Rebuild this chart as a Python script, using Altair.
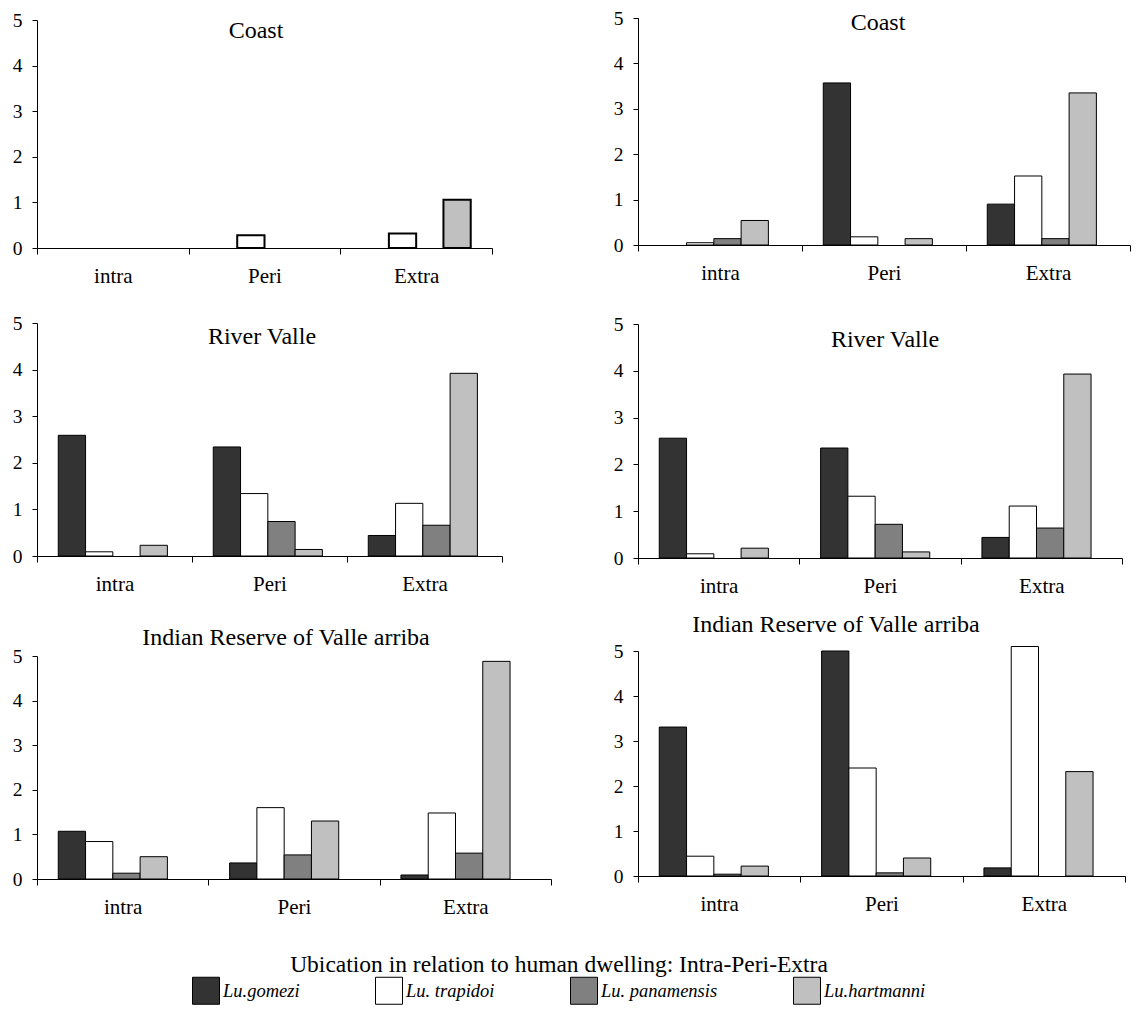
import altair as alt
import pandas as pd

FONT = "Liberation Serif"

categories = ["intra", "Peri", "Extra"]
species = ["Lu.gomezi", "Lu. trapidoi", "Lu. panamensis", "Lu.hartmanni"]
colors = ["#333333", "#ffffff", "#808080", "#c0c0c0"]
y_ticks = [0, 1, 2, 3, 4, 5]
panel_titles = ["Coast", "Coast", "River Valle", "River Valle",
                "Indian Reserve of Valle arriba", "Indian Reserve of Valle arriba"]
axis_title = "Ubication in relation to human dwelling: Intra-Peri-Extra"

# values per species (rows) x location (intra, Peri, Extra)
coast_left = [[0, 0, 0], [0, 0.28, 0.32], [0, 0, 0], [0, 0, 1.06]]
coast_right = [[0, 3.57, 0.90], [0.05, 0.18, 1.52], [0.14, 0, 0.14], [0.54, 0.14, 3.35]]
river_left = [[2.59, 2.34, 0.44], [0.09, 1.34, 1.13], [0, 0.74, 0.66], [0.23, 0.14, 3.92]]
river_right = [[2.56, 2.35, 0.44], [0.09, 1.32, 1.11], [0, 0.72, 0.64], [0.21, 0.13, 3.93]]
indian_left = [[1.07, 0.36, 0.09], [0.84, 1.60, 1.48], [0.13, 0.54, 0.58], [0.50, 1.30, 4.88]]
indian_right = [[3.31, 5.0, 0.18], [0.44, 2.40, 5.1], [0.04, 0.07, 0], [0.22, 0.40, 2.32]]

panel_values = [coast_left, coast_right, river_left, river_right, indian_left, indian_right]

# layout (pixels) for each panel
FRAME_H = 270
COL_W = [514, 492]
layout = [
    dict(w=455, base=239, h=228, tx=219, ty=22, sw=2),
    dict(w=492, base=236, h=227, tx=240, ty=14, sw=1),
    dict(w=465, base=256, h=233, tx=225, ty=37, sw=1),
    dict(w=484, base=258, h=234, tx=247, ty=40, sw=1),
    dict(w=514, base=269, h=223, tx=249, ty=28, sw=1),
    dict(w=487, base=266, h=225, tx=198, ty=15, sw=1),
]

legend = alt.Legend(
    title=axis_title, orient="none", legendX=155, legendY=944,
    direction="horizontal", symbolType="square", symbolSize=729,
    symbolStrokeColor="black", symbolStrokeWidth=1, symbolOpacity=1,
    labelFont=FONT, labelFontStyle="italic", labelFontSize=18.5, labelColor="black",
    labelLimit=300, labelOffset=3,
    titleFont=FONT, titleFontSize=23.5, titleFontWeight="normal", titleColor="black",
    titleAnchor="middle", titleLimit=1000, titlePadding=0, columnPadding=73,
)


def panel(i):
    L = layout[i]
    vals = panel_values[i]
    rows = [{"cat": c, "sp": s, "v": vals[si][ci]}
            for si, s in enumerate(species) for ci, c in enumerate(categories)]
    df = pd.DataFrame(rows)
    d = FRAME_H - L["base"]
    x = alt.X("cat:N", sort=categories,
              scale=alt.Scale(domain=categories, range=[0, L["w"]], paddingInner=0, paddingOuter=0),
              axis=alt.Axis(title=None, labelAngle=0, tickBand="extent", offset=-d,
                            domainColor="black", tickColor="black", tickSize=6,
                            labelFont=FONT, labelFontSize=21, labelColor="black",
                            labelPadding=11))
    y = alt.Y("v:Q",
              scale=alt.Scale(domain=[0, 5], range=[L["base"], L["base"] - L["h"]], nice=False),
              axis=alt.Axis(values=y_ticks, title=None, grid=False, domainColor="black",
                            tickColor="black", tickSize=5, labelFont=FONT, labelFontSize=19.5,
                            labelColor="black", labelPadding=10, format="d"))
    bars = alt.Chart(df).transform_filter("datum.v > 0").mark_bar(
        stroke="black", strokeWidth=L["sw"], clip=False).encode(
        x=x, y=y,
        xOffset=alt.XOffset("sp:N", sort=species,
                            scale=alt.Scale(domain=species, paddingOuter=0.78, paddingInner=0)),
        color=alt.Color("sp:N", sort=species,
                        scale=alt.Scale(domain=species, range=colors), legend=legend),
    )
    title = alt.Chart(pd.DataFrame({"t": [panel_titles[i]]})).mark_text(
        font=FONT, fontSize=24, color="black").encode(
        x=alt.value(L["tx"]), y=alt.value(L["ty"]), text="t:N")
    return alt.layer(bars, title).properties(width=COL_W[i % 2], height=FRAME_H)


chart = alt.concat(*[panel(i) for i in range(6)], columns=2,
                   spacing={"row": 14, "column": 61}).properties(
    padding={"left": 4, "top": 0, "right": 0, "bottom": 0},
    background="white",
).configure_view(stroke=None)

chart.save("out.html", embed_options={"renderer": "svg", "actions": False})
